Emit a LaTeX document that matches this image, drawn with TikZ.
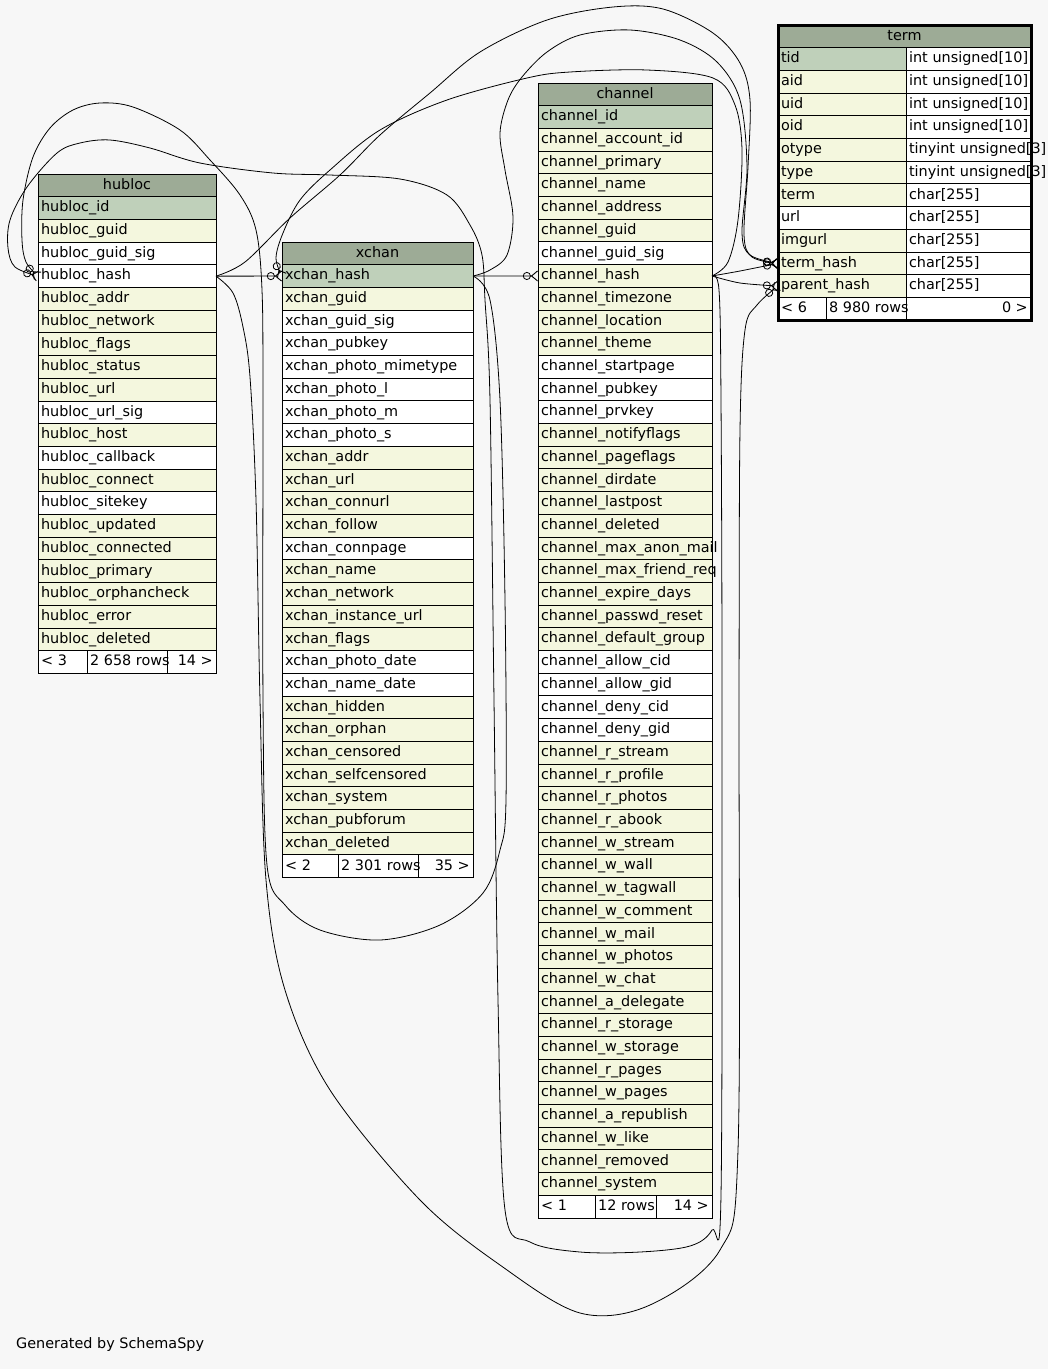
\documentclass[tikz,border=0pt]{standalone}
\usepackage{fontspec}
\setmainfont{DejaVu Sans}
\usetikzlibrary{arrows.meta,positioning,calc}
\definecolor{sshead}{RGB}{157,171,150}
\definecolor{sspk}{RGB}{191,208,186}
\definecolor{ssix}{RGB}{244,247,222}
\definecolor{ssbg}{RGB}{247,247,247}
\tikzset{
  tbl/cell/.style={draw, line width=0.9pt, minimum height=22.7pt, inner xsep=3pt, inner ysep=0pt,
    outer sep=0pt, anchor=north, text height=11pt, text depth=3.5pt, font=\fontsize{14.4}{16}\selectfont},
  tbl/head/.style={tbl/cell, fill=sshead, align=center},
  tbl/pk/.style={tbl/cell, fill=sspk},
  tbl/ix/.style={tbl/cell, fill=ssix},
  tbl/pl/.style={tbl/cell, fill=white},
  tbl/ftext/.style={inner xsep=3pt, inner ysep=0pt, text height=11pt, text depth=3.5pt, font=\fontsize{14.4}{16}\selectfont},
  tbl/rule/.style={line width=0.9pt},
  rel/line/.style={line width=0.8pt},
  rel/zmany/.style={rel/line, -{Circle[open,length=8pt,width=8pt,line width=0.8pt] Straight Barb[reversed,length=6pt,width=10pt,line width=0.9pt]}}
}
% table: name, north west corner, width, rows (label/kind)
\newcommand{\dbtable}[4]{%
  \pgfmathsetmacro\dbtw{#3-6}
  \node[tbl/head, minimum width=#3pt, anchor=north west] (#1-0) at (#2) {#1};
  \foreach \lab/\kind [count=\i] in {#4} {
    \pgfmathtruncatemacro\j{\i-1}
    \node[tbl/\kind, text width=\dbtw pt, align=left] (#1-\i) at (#1-\j.south) {\mbox{\lab}};
  }
}
% footer: name, row, split 1, split 2, texts
\newcommand{\dbfoot}[7]{%
  \node[tbl/ftext, anchor=west] at (#1-#2.west) {#5};
  \node[tbl/ftext, anchor=west] at (#3,0 |- #1-#2.west) {#6};
  \node[tbl/ftext, anchor=east] at (#1-#2.east) {#7};
  \draw[tbl/rule] (#3,0 |- #1-#2.north) -- (#3,0 |- #1-#2.south);
  \draw[tbl/rule] (#4,0 |- #1-#2.north) -- (#4,0 |- #1-#2.south);
}

\begin{document}
\begin{tikzpicture}[x=1pt, y=-1pt]
  \useasboundingbox[fill=ssbg] (0,0) rectangle (1048,1369);

  \dbtable{hubloc}{38,174}{178}{hubloc\_id/pk, hubloc\_guid/ix, hubloc\_guid\_sig/pl, hubloc\_hash/pl,
    hubloc\_addr/ix, hubloc\_network/ix, hubloc\_flags/ix, hubloc\_status/ix, hubloc\_url/ix,
    hubloc\_url\_sig/pl, hubloc\_host/ix, hubloc\_callback/pl, hubloc\_connect/ix, hubloc\_sitekey/pl,
    hubloc\_updated/ix, hubloc\_connected/ix, hubloc\_primary/ix, hubloc\_orphancheck/ix,
    hubloc\_error/ix, hubloc\_deleted/ix, {}/pl}
  \dbfoot{hubloc}{21}{87}{167}{< 3}{2 658 rows}{14 >}

  \dbtable{xchan}{282,242}{191}{xchan\_hash/pk, xchan\_guid/ix, xchan\_guid\_sig/pl, xchan\_pubkey/pl,
    xchan\_photo\_mimetype/pl, xchan\_photo\_l/pl, xchan\_photo\_m/pl, xchan\_photo\_s/pl,
    xchan\_addr/ix, xchan\_url/ix, xchan\_connurl/ix, xchan\_follow/ix, xchan\_connpage/pl,
    xchan\_name/ix, xchan\_network/ix, xchan\_instance\_url/ix, xchan\_flags/ix,
    xchan\_photo\_date/pl, xchan\_name\_date/pl, xchan\_hidden/ix, xchan\_orphan/ix,
    xchan\_censored/ix, xchan\_selfcensored/ix, xchan\_system/ix, xchan\_pubforum/ix,
    xchan\_deleted/ix, {}/pl}
  \dbfoot{xchan}{27}{338}{418}{< 2}{2 301 rows}{35 >}

  \dbtable{channel}{538,83}{174}{channel\_id/pk, channel\_account\_id/ix, channel\_primary/ix,
    channel\_name/ix, channel\_address/ix, channel\_guid/ix, channel\_guid\_sig/pl, channel\_hash/ix,
    channel\_timezone/ix, channel\_location/ix, channel\_theme/ix, channel\_startpage/pl,
    channel\_pubkey/pl, channel\_prvkey/pl, channel\_notifyflags/ix, channel\_pageflags/ix,
    channel\_dirdate/ix, channel\_lastpost/ix, channel\_deleted/ix, channel\_max\_anon\_mail/ix,
    channel\_max\_friend\_req/ix, channel\_expire\_days/ix, channel\_passwd\_reset/ix,
    channel\_default\_group/ix, channel\_allow\_cid/pl, channel\_allow\_gid/pl, channel\_deny\_cid/pl,
    channel\_deny\_gid/pl, channel\_r\_stream/ix, channel\_r\_profile/ix, channel\_r\_photos/ix,
    channel\_r\_abook/ix, channel\_w\_stream/ix, channel\_w\_wall/ix, channel\_w\_tagwall/ix,
    channel\_w\_comment/ix, channel\_w\_mail/ix, channel\_w\_photos/ix, channel\_w\_chat/ix,
    channel\_a\_delegate/ix, channel\_r\_storage/ix, channel\_w\_storage/ix, channel\_r\_pages/ix,
    channel\_w\_pages/ix, channel\_a\_republish/ix, channel\_w\_like/ix, channel\_removed/ix,
    channel\_system/ix, {}/pl}
  \dbfoot{channel}{49}{595}{656}{< 1}{12 rows}{14 >}

  % term has a type column
  \node[tbl/head, minimum width=253pt, anchor=north west] (term-0) at (778,25) {term};
  \foreach \lab/\typ/\kind [count=\i] in {tid/int unsigned[10]/pk, aid/int unsigned[10]/ix,
      uid/int unsigned[10]/ix, oid/int unsigned[10]/ix, otype/tinyint unsigned[3]/ix,
      type/tinyint unsigned[3]/ix, term/char[255]/ix, url/char[255]/pl, imgurl/char[255]/ix,
      term\_hash/char[255]/ix, parent\_hash/char[255]/ix, {}/{}/pl} {
    \pgfmathtruncatemacro\j{\i-1}
    \node[tbl/\kind, anchor=north west, text width=122pt, align=left] (term-\i) at (term-\j.south west) {\mbox{\lab}};
    \node[tbl/pl, anchor=north west, text width=119pt, align=left] (termtype-\i) at (term-\i.north east) {\mbox{\typ}};
  }
  \node[tbl/ftext, anchor=west] at (term-12.west) {< 6};
  \node[tbl/ftext, anchor=west] at (826,0 |- term-12.west) {8 980 rows};
  \node[tbl/ftext, anchor=east] at (termtype-12.east) {0 >};
  \draw[tbl/rule] (826,0 |- term-12.north) -- (826,0 |- term-12.south);
  \draw[tbl/rule] (termtype-12.north west) -- (termtype-12.south west);
  \draw[line width=3pt] (term-0.north west) rectangle (termtype-12.south east);

  \node[tbl/ftext, anchor=west] (credit) at (13,1345) {Generated by SchemaSpy};

  % relations between the hash columns
  \draw[rel/zmany] (hubloc-4.east) -- (xchan-1.west);
  \draw[rel/zmany] (xchan-1.east) -- (channel-8.west);
  \draw[rel/zmany] plot[smooth, tension=0.5] coordinates {(channel-8.east) (740,271) (term-10.west)};
  \draw[rel/zmany] plot[smooth, tension=0.5] coordinates {(channel-8.east) (740,283) (term-11.west)};
  \draw[rel/zmany] plot[smooth, tension=0.55] coordinates {(hubloc-4.east) (245,262) (290,218)
    (340,175) (380,135) (430,93) (480,52) (547,20) (613,7) (663,9) (713,33) (740,63) (750,100)
    (748,167) (744,235) (752,257) (term-10.west)};
  \draw[rel/zmany] plot[smooth, tension=0.55] coordinates {(xchan-1.east) (490,270) (507,255)
    (513,217) (505,170) (500,133) (508,100) (522,77) (547,52) (580,35) (630,30) (680,40) (717,62)
    (740,100) (747,167) (742,233) (750,255) (term-10.west)};
  \draw[rel/zmany] plot[smooth, tension=0.55] coordinates {(channel-8.east) (728,262) (738,220)
    (742,150) (735,105) (713,78) (647,70) (570,72) (527,78) (447,100) (380,130) (330,170) (300,200)
    (283,233) (276,258) (xchan-1.west)};
  \draw[rel/zmany] plot[smooth, tension=0.55] coordinates {(hubloc-4.east) (233,293) (243,327)
    (250,377) (256,500) (260,700) (266,880) (285,990) (330,1090) (420,1200) (500,1265) (580,1313)
    (650,1305) (720,1250) (738,1150) (739,700) (740,430) (745,330) (757,305) (term-11.west)};
  \draw[rel/zmany] plot[smooth, tension=0.55] coordinates {(xchan-1.east) (490,300) (500,400)
    (505,600) (506,800) (500,850) (483,893) (440,925) (380,940) (320,930) (285,905) (267,865)
    (263,700) (263,400) (262,290) (256,230) (240,195) (210,160) (180,130) (133,107) (100,103)
    (73,110) (50,128) (33,157) (23,200) (22,240) (26,262) (hubloc-4.west)};
  \draw[rel/zmany] plot[smooth, tension=0.55] coordinates {(channel-8.east) (719,290) (721,400)
    (722,700) (721,1195) (712,1230) (690,1246) (640,1252) (580,1252) (530,1242) (505,1210)
    (498,1000) (494,700) (490,400) (485,300) (482,255) (470,225) (447,195) (400,179) (330,175)
    (273,173) (200,163) (150,148) (110,140) (80,143) (57,153) (27,187) (10,220) (8,248) (15,267)
    (hubloc-4.west)};
\end{tikzpicture}
\end{document}
